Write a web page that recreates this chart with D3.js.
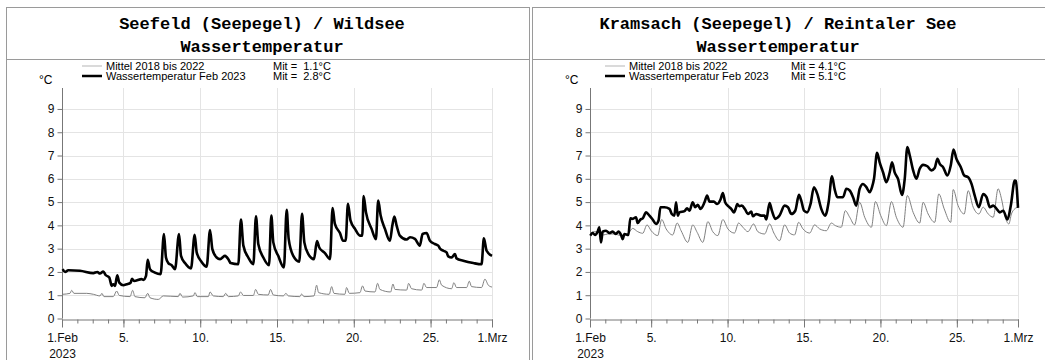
<!DOCTYPE html>
<html>
<head>
<meta charset="utf-8">
<script src="https://cdn.jsdelivr.net/npm/d3@7"></script>
<style>
body { margin: 0; background: #fff; }
text { font-family: "Liberation Sans", Arial, sans-serif; }
</style>
</head>
<body>
<script>
/* Data: [day offset from 1.Feb 2023 00:00, °C] */
var seefeldTitle = ["Seefeld (Seepegel) / Wildsee", "Wassertemperatur"],
	kramsachTitle = ["Kramsach (Seepegel) / Reintaler See", "Wassertemperatur"],
	legendLabels = ["Mittel 2018 bis 2022", "Wassertemperatur Feb 2023"],
	seefeldMeans = ["Mit =  1.1°C", "Mit =  2.8°C"],
	kramsachMeans = ["Mit = 4.1°C", "Mit = 5.1°C"],
	yTicks = [0, 1, 2, 3, 4, 5, 6, 7, 8, 9],
	xLabelDays = [1, 5, 10, 15, 20, 25];

var seefeldMittel = [[0.04,1.04],[0.52,1.08],[0.63,1.21],[0.78,1.08],[1.61,1.08],[2.04,1.04],[2.47,0.97],[2.6,1.08],[2.73,0.94],[3.34,0.94],[3.56,1.18],[3.73,0.99],[4.43,0.94],[4.6,1.21],[4.75,0.94],[5.4,0.89],[5.58,1.08],[5.73,0.89],[6.27,0.82],[6.6,0.97],[7.57,0.94],[7.68,1.08],[7.86,0.92],[8.55,0.97],[8.66,1.11],[8.81,0.94],[9.53,0.94],[9.64,1.14],[9.85,0.97],[10.5,0.94],[10.66,1.08],[10.83,0.94],[11.48,0.97],[11.63,1.14],[11.81,0.99],[12.46,0.99],[12.61,1.25],[12.78,1.04],[13.43,1.01],[13.58,1.25],[13.76,1.01],[14.41,0.97],[14.58,1.08],[14.74,0.97],[15.49,0.94],[15.6,1.05],[15.76,0.94],[16.41,0.97],[16.58,1.43],[16.71,1.11],[17.4,1.04],[17.56,1.37],[17.71,1.08],[18.42,1.04],[18.53,1.33],[18.71,1.08],[19.4,1.11],[19.57,1.40],[19.73,1.18],[20.38,1.14],[20.55,1.51],[20.7,1.25],[21.4,1.14],[21.55,1.48],[21.68,1.25],[22.44,1.22],[22.57,1.51],[22.76,1.28],[23.42,1.22],[23.57,1.51],[23.74,1.33],[24.39,1.33],[24.57,1.66],[24.72,1.43],[25.37,1.28],[25.52,1.54],[25.69,1.33],[26.35,1.33],[26.52,1.60],[26.67,1.37],[27.32,1.33],[27.54,1.69],[27.76,1.43],[28,1.35]];

var seefeldFeb2023 = [[0.04,2.12],[0.2,2.0],[0.41,2.07],[1.17,2.05],[2.04,1.95],[2.3,2.0],[2.47,1.93],[2.69,2.02],[2.84,1.87],[3.08,1.76],[3.17,1.54],[3.23,1.40],[3.34,1.47],[3.45,1.40],[3.6,1.86],[3.73,1.54],[3.99,1.43],[4.21,1.47],[4.47,1.54],[4.56,1.71],[4.69,1.61],[5.19,1.69],[5.3,1.66],[5.47,1.83],[5.58,2.52],[5.73,2.12],[6.05,1.97],[6.42,1.90],[6.64,3.63],[6.77,2.62],[6.92,2.38],[7.14,2.29],[7.36,2.12],[7.62,3.63],[7.75,2.69],[8.01,2.38],[8.4,2.15],[8.64,3.6],[8.77,2.84],[9.09,2.43],[9.42,2.23],[9.64,3.8],[9.79,2.98],[10.07,2.62],[10.29,2.55],[10.61,2.69],[10.83,2.55],[10.98,2.38],[11.48,2.33],[11.65,4.25],[11.81,3.13],[12.13,2.62],[12.46,2.33],[12.63,4.39],[12.78,3.2],[13.11,2.62],[13.48,2.29],[13.63,4.42],[13.76,3.27],[14.08,2.69],[14.45,2.19],[14.63,4.67],[14.76,3.42],[15.06,2.69],[15.45,2.44],[15.63,4.50],[15.78,3.27],[16.04,2.77],[16.41,2.55],[16.6,3.33],[16.75,3.05],[17.12,2.81],[17.45,2.55],[17.62,4.74],[17.77,4.06],[18.1,3.67],[18.3,3.34],[18.47,3.34],[18.62,4.93],[18.79,4.2],[19.08,3.85],[19.4,3.56],[19.55,3.56],[19.64,5.26],[19.79,4.57],[20.16,3.85],[20.44,3.41],[20.59,5.07],[20.75,4.42],[21.03,3.85],[21.35,3.34],[21.51,3.99],[21.64,4.38],[21.79,3.99],[22.0,3.56],[22.44,3.39],[22.66,3.49],[22.98,3.42],[23.3,3.13],[23.48,3.63],[23.74,3.67],[23.96,3.34],[24.28,3.2],[24.5,3.13],[24.61,3.01],[24.83,2.91],[25.04,2.84],[25.15,2.67],[25.37,2.62],[25.59,2.77],[25.69,2.58],[26.13,2.48],[26.78,2.38],[27.32,2.33],[27.47,3.44],[27.65,2.91],[28,2.69]];

var kramsachMittel = [[0.02,3.67],[0.28,3.73],[0.61,3.7],[0.9,3.59],[1.16,3.63],[1.59,3.63],[2.03,3.56],[2.47,3.63],[2.79,3.87],[3.12,3.73],[3.45,3.66],[3.73,4.02],[4.0,3.77],[4.43,3.56],[4.69,4.25],[4.98,3.85],[5.41,3.59],[5.7,4.10],[5.96,3.77],[6.4,3.27],[6.72,4.02],[7.01,3.70],[7.38,3.27],[7.71,4.16],[8.03,3.73],[8.36,3.56],[8.69,4.25],[9.02,3.85],[9.45,3.67],[9.72,4.10],[10.0,3.92],[10.33,3.73],[10.7,4.06],[10.98,3.73],[11.42,3.63],[11.75,4.06],[12.03,3.67],[12.4,3.34],[12.73,4.02],[13.06,3.67],[13.38,3.59],[13.65,4.13],[13.93,3.85],[14.37,3.67],[14.69,4.02],[15.02,3.85],[15.46,3.77],[15.79,4.10],[16.05,3.99],[16.44,3.92],[16.7,4.63],[16.99,4.35],[17.31,4.02],[17.64,4.99],[17.97,4.35],[18.41,3.92],[18.67,5.02],[19.02,4.42],[19.39,3.99],[19.72,5.02],[20.04,4.35],[20.48,3.92],[20.76,5.28],[21.14,4.56],[21.57,4.10],[21.79,4.99],[22.12,4.49],[22.55,4.13],[22.82,5.35],[23.17,4.71],[23.6,4.13],[23.76,5.54],[24.08,4.85],[24.48,4.49],[24.74,5.49],[25.07,4.78],[25.44,4.49],[25.72,4.78],[26.05,4.49],[26.38,4.35],[26.7,5.57],[26.92,5.14],[27.14,4.42],[27.4,4.06],[27.57,4.49],[27.79,4.71],[28,4.78]];

var kramsachFeb2023 = [[0.02,3.56],[0.17,3.67],[0.33,3.59],[0.5,3.73],[0.61,3.92],[0.72,3.27],[0.83,3.73],[1.05,3.77],[1.27,3.67],[1.48,3.73],[1.7,3.63],[1.86,3.73],[2.03,3.59],[2.14,3.41],[2.25,3.63],[2.51,3.59],[2.64,4.30],[2.79,4.28],[3.01,4.35],[3.12,4.10],[3.3,4.25],[3.45,4.30],[3.67,4.56],[3.89,4.42],[4.1,4.25],[4.32,4.06],[4.48,4.20],[4.61,4.78],[4.87,4.78],[5.2,4.71],[5.35,4.49],[5.52,4.42],[5.63,4.99],[5.74,4.42],[5.85,4.56],[6.18,4.61],[6.35,4.73],[6.51,4.63],[6.72,4.99],[6.88,4.78],[7.05,4.88],[7.23,4.71],[7.49,4.99],[7.66,5.28],[7.82,5.02],[8.1,5.02],[8.32,4.92],[8.54,5.11],[8.69,5.39],[8.84,4.99],[9.06,4.82],[9.24,4.71],[9.41,4.56],[9.56,4.78],[9.63,4.92],[9.78,4.82],[9.93,4.85],[10.15,4.68],[10.33,4.49],[10.55,4.59],[10.66,4.39],[10.87,4.49],[11.2,4.42],[11.42,4.42],[11.53,4.25],[11.75,4.96],[11.9,4.63],[12.12,4.28],[12.4,4.42],[12.73,4.85],[12.95,4.78],[13.17,4.49],[13.43,4.63],[13.67,5.31],[13.82,5.06],[14.0,4.63],[14.21,4.56],[14.43,4.92],[14.65,5.64],[14.87,5.35],[15.13,4.71],[15.39,4.42],[15.61,4.99],[15.83,6.11],[16.0,5.57],[16.18,5.21],[16.55,5.21],[16.77,5.57],[16.99,5.5],[17.21,5.21],[17.42,4.85],[17.64,5.57],[17.86,5.78],[18.08,5.64],[18.3,5.42],[18.45,5.64],[18.58,6.0],[18.78,7.12],[18.95,6.71],[19.17,6.28],[19.39,5.85],[19.61,6.28],[19.76,6.71],[19.93,6.28],[20.15,6.0],[20.41,5.31],[20.59,6.0],[20.76,7.36],[20.92,7.0],[21.14,6.36],[21.35,6.0],[21.57,6.43],[21.79,6.6],[22.07,6.54],[22.34,6.36],[22.55,6.46],[22.73,6.86],[22.88,6.64],[23.1,6.5],[23.38,6.14],[23.6,6.57],[23.78,7.26],[23.97,6.86],[24.26,6.5],[24.48,6.14],[24.74,6.07],[24.96,5.78],[25.17,5.28],[25.44,4.78],[25.72,5.35],[25.94,5.21],[26.16,4.78],[26.38,4.85],[26.6,4.71],[26.81,4.56],[27.03,4.63],[27.31,4.25],[27.53,4.85],[27.79,5.93],[27.86,5.9],[28,4.75]];

/* Display setup */
var width = 1045, height = 360,
	monthStart = new Date(2023, 1, 1),
	monthEnd = new Date(2023, 2, 1),
	svg = d3.select("body").append("svg")
		.attr("width", width)
		.attr("height", height);

function toDate(day) {
	return new Date(monthStart.getTime() + day * 864e5);
}

function drawPanel(p) {
	var g = svg.append("g");

	// frame + title separator
	g.append("rect")
		.attr("x", p.boxX + 0.5).attr("y", 7.5)
		.attr("width", p.boxW).attr("height", 380)
		.style("fill", "none").style("stroke", "#9a9a9a");
	g.append("line")
		.attr("x1", p.boxX).attr("x2", p.boxX + p.boxW)
		.attr("y1", 59.5).attr("y2", 59.5)
		.style("stroke", "#9a9a9a");

	g.selectAll(".title")
		.data(p.title)
		.enter().append("text")
			.attr("x", p.titleX)
			.attr("y", function(d, i) { return 29 + i * 23; })
			.attr("text-anchor", "middle")
			.style("font-family", "'Liberation Mono', 'Courier New', monospace")
			.style("font-weight", "bold")
			.style("font-size", "17px")
			.text(function(d) { return d; });

	var x = d3.scaleTime().domain([monthStart, monthEnd]).range([p.left, p.right]),
		y = d3.scaleLinear().domain([0, 9.9]).range([318.5, 88]);

	// grid
	g.append("g").selectAll("line")
		.data(yTicks.slice(1))
		.enter().append("line")
			.attr("x1", p.left).attr("x2", p.right)
			.attr("y1", function(d) { return Math.round(y(d)) + 0.5; })
			.attr("y2", function(d) { return Math.round(y(d)) + 0.5; })
			.style("stroke", "#e4e4e4");
	g.append("g").selectAll("line")
		.data(xLabelDays.slice(1).map(function(d) { return new Date(2023, 1, d); }).concat([monthEnd]))
		.enter().append("line")
			.attr("x1", function(d) { return Math.round(x(d)) + 0.5; })
			.attr("x2", function(d) { return Math.round(x(d)) + 0.5; })
			.attr("y1", 88).attr("y2", y(0))
			.style("stroke", "#e4e4e4");

	// axes
	var yAxis = g.append("g")
		.attr("transform", "translate(" + (Math.round(p.left) + 0.5) + ",0)")
		.call(d3.axisLeft(y).tickValues(yTicks).tickSize(5).tickPadding(3).tickFormat(d3.format("d")));
	yAxis.select(".domain").attr("d", "M0,88V" + y(0));

	var minor = g.append("g")
		.attr("transform", "translate(0," + (Math.round(y(0)) + 0.5) + ")")
		.call(d3.axisBottom(x).ticks(d3.timeDay.every(1)).tickSize(4).tickFormat(""));
	minor.select(".domain").remove();

	var labelDates = xLabelDays.map(function(d) { return new Date(2023, 1, d); }).concat([monthEnd]);
	var xAxis = g.append("g")
		.attr("transform", "translate(0," + (Math.round(y(0)) + 0.5) + ")")
		.call(d3.axisBottom(x).tickValues(labelDates).tickSize(8).tickPadding(6).tickSizeOuter(0)
			.tickFormat(function(d) {
				if (d.getDate() == 1) return "1." + (d.getMonth() == 1 ? "Feb" : "Mrz");
				return d.getDate() + ".";
			}));
	xAxis.selectAll(".tick text")
		.attr("dy", "0.71em")
		.filter(function(d) { return +d == +monthStart; })
		.append("tspan")
			.attr("x", 0).attr("dy", "1.33em")
			.text("2023");

	[yAxis, minor, xAxis].forEach(function(a) {
		a.selectAll(".domain, .tick line").style("stroke", "#777");
		a.selectAll("text").style("font-size", "12px").style("font-family", "'Liberation Sans', Arial, sans-serif").style("fill", "#111");
	});

	// lines
	var line = d3.line()
		.curve(d3.curveMonotoneX)
		.x(function(d) { return x(toDate(d[0])); })
		.y(function(d) { return y(d[1]); });

	g.append("path")
		.datum(p.mittel)
		.attr("d", line)
		.style("fill", "none").style("stroke", "#808080").style("stroke-width", 1);
	g.append("path")
		.datum(p.current)
		.attr("d", line)
		.style("fill", "none").style("stroke", "#000").style("stroke-width", 2.6)
		.style("stroke-linejoin", "round");

	// unit + legend
	g.append("text")
		.attr("x", p.unitX).attr("y", 84)
		.style("font-size", "12px")
		.text("°C");

	var legend = g.selectAll(".legend")
		.data(legendLabels)
		.enter().append("g")
			.attr("transform", function(d, i) { return "translate(0," + (66 + i * 10) + ")"; });
	legend.append("line")
		.attr("x1", p.legendX).attr("x2", p.legendX + 20)
		.attr("y1", 0).attr("y2", 0)
		.style("stroke", function(d, i) { return i ? "#000" : "#b5b5b5"; })
		.style("stroke-width", function(d, i) { return i ? 2.5 : 1; });
	legend.append("text")
		.attr("x", p.legendX + 24).attr("y", 4)
		.style("font-size", "11px")
		.text(function(d) { return d; });
	legend.append("text")
		.attr("x", p.mitX).attr("y", 4)
		.style("font-size", "11px")
		.style("white-space", "pre")
		.text(function(d, i) { return p.means[i]; });
}

drawPanel({
	boxX: 6, boxW: 523, titleX: 262, title: seefeldTitle,
	left: 62, right: 492, unitX: 39, legendX: 82, mitX: 273,
	means: seefeldMeans, mittel: seefeldMittel, current: seefeldFeb2023
});

drawPanel({
	boxX: 532, boxW: 523, titleX: 778, title: kramsachTitle,
	left: 590, right: 1018, unitX: 565, legendX: 605, mitX: 791,
	means: kramsachMeans, mittel: kramsachMittel, current: kramsachFeb2023
});
</script>
</body>
</html>
